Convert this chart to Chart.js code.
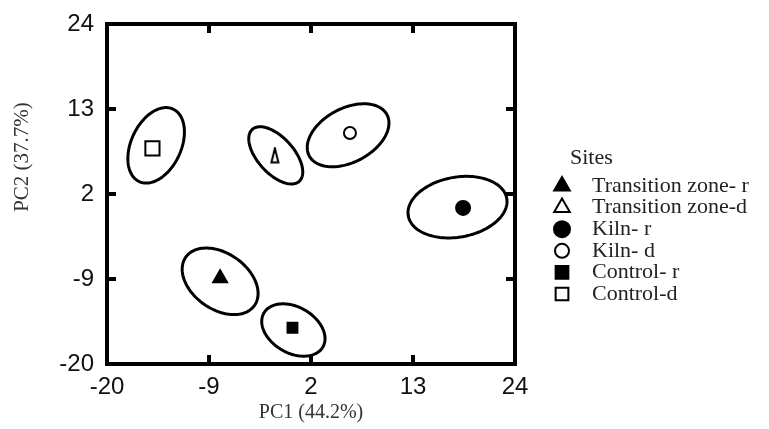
<!DOCTYPE html>
<html>
<head>
<meta charset="utf-8">
<script src="https://cdn.jsdelivr.net/npm/chart.js@4.4.1/dist/chart.umd.min.js"></script>
<style>
  html, body { margin: 0; padding: 0; background: #ffffff; }
  #wrap { width: 769px; height: 429px; }
</style>
</head>
<body>
<div id="wrap"><canvas id="pca" width="769" height="429"></canvas></div>
<script>
// Sample sites and their PCA scores
const sites = ['Transition zone- r', 'Transition zone-d', 'Kiln- r', 'Kiln- d', 'Control- r', 'Control-d'];
const pc1 = [-7.8, -1.9, 18.4, 6.2, 0.0, -15.1];
const pc2 = [-8.9, 7.0, 0.2, 9.9, -15.3, 7.9];

// Confidence ellipses: centre and two conjugate semi-axis vectors, in PC units
const ellipseCx = [-7.8, -1.8, 17.8, 6.0, 0.1, -14.7];
const ellipseCy = [-9.3, 7.0, 0.3, 9.6, -15.6, 8.3];
const ellipseAxisA = [[3.71, -3.12], [2.53, -3.36], [5.31, 1.13], [4.19, 2.67], [3.18, -2.20], [1.83, 4.69]];
const ellipseAxisB = [[1.73, 2.97], [1.44, 1.56], [-0.56, 3.82], [-1.37, 3.08], [1.24, 2.58], [-2.44, 1.37]];

// Axis ticks (both components share the same range)
const pcTicks = [-20, -9, 2, 13, 24];

// Slim open triangle used for the transition zone-d marker
function slimTriangle() {
  const c = document.createElement('canvas');
  c.width = 10; c.height = 17;
  const g = c.getContext('2d');
  g.beginPath();
  g.moveTo(5, 1.5); g.lineTo(8.5, 15.5); g.lineTo(1.5, 15.5); g.closePath();
  g.fillStyle = '#fff'; g.fill();
  g.lineWidth = 2; g.strokeStyle = '#000'; g.stroke();
  return c;
}

// Marker look for each site (plot marker, key marker)
const siteStyles = [
  { shape: 'triangle',      filled: true,  r: 8,  key: 'triangle', keyR: 9 },
  { shape: slimTriangle(),  filled: false, r: 8,  key: 'triangle', keyR: 9 },
  { shape: 'circle',        filled: true,  r: 7,  key: 'circle',   keyR: 8 },
  { shape: 'circle',        filled: false, r: 6,  key: 'circle',   keyR: 7 },
  { shape: 'rect',          filled: true,  r: 7,  key: 'rect',     keyR: 9 },
  { shape: 'rect',          filled: false, r: 10, key: 'rect',     keyR: 9 }
];

const datasets = sites.map((name, i) => ({
  label: name,
  data: [{ x: pc1[i], y: pc2[i] }],
  pointStyle: siteStyles[i].shape,
  pointRadius: siteStyles[i].r,
  pointHoverRadius: siteStyles[i].r,
  pointBorderWidth: 2,
  borderColor: '#000',
  pointBorderColor: '#000',
  pointBackgroundColor: siteStyles[i].filled ? '#000' : '#fff',
  backgroundColor: siteStyles[i].filled ? '#000' : '#fff'
}));

const SERIF = '"Liberation Serif", "Times New Roman", serif';
const SANS = '"Liberation Sans", Arial, sans-serif';

// Draws the ellipses, the boxed frame with inward ticks, the y title and the key
const pcaDecor = {
  id: 'pcaDecor',
  beforeDatasetsDraw(chart) {
    const { ctx, scales: { x, y } } = chart;
    ctx.save();
    ctx.strokeStyle = '#000';
    ctx.lineWidth = 3;
    for (let i = 0; i < sites.length; i++) {
      const A = ellipseAxisA[i], B = ellipseAxisB[i];
      ctx.beginPath();
      const n = 120;
      for (let k = 0; k <= n; k++) {
        const t = (k / n) * Math.PI * 2;
        const vx = ellipseCx[i] + A[0] * Math.cos(t) + B[0] * Math.sin(t);
        const vy = ellipseCy[i] + A[1] * Math.cos(t) + B[1] * Math.sin(t);
        const px = x.getPixelForValue(vx), py = y.getPixelForValue(vy);
        if (k === 0) ctx.moveTo(px, py); else ctx.lineTo(px, py);
      }
      ctx.closePath();
      ctx.stroke();
    }
    ctx.restore();
  },
  afterDraw(chart) {
    const { ctx, chartArea: a, scales: { x, y } } = chart;
    ctx.save();
    // frame
    ctx.strokeStyle = '#000';
    ctx.lineWidth = 4;
    ctx.strokeRect(a.left, a.top, a.right - a.left, a.bottom - a.top);
    // inward tick marks
    const len = 9;
    pcTicks.slice(1, -1).forEach(v => {
      const px = x.getPixelForValue(v);
      const py = y.getPixelForValue(v);
      ctx.beginPath();
      ctx.moveTo(px, a.bottom); ctx.lineTo(px, a.bottom - len);
      ctx.moveTo(px, a.top); ctx.lineTo(px, a.top + len);
      ctx.moveTo(a.left, py); ctx.lineTo(a.left + len, py);
      ctx.moveTo(a.right, py); ctx.lineTo(a.right - len, py);
      ctx.stroke();
    });
    // y axis title
    ctx.fillStyle = '#333';
    ctx.font = '21px ' + SERIF;
    ctx.textAlign = 'center';
    ctx.textBaseline = 'middle';
    ctx.translate(22, 157);
    ctx.rotate(-Math.PI / 2);
    ctx.fillText('PC2 (37.7%)', 0, 0);
    ctx.restore();

    // key
    ctx.save();
    ctx.fillStyle = '#222';
    ctx.font = '22px ' + SERIF;
    ctx.textAlign = 'left';
    ctx.textBaseline = 'middle';
    ctx.fillText('Sites', 570, 158);
    const rowY0 = 186, rowGap = 21.6;
    chart.data.datasets.forEach((ds, i) => {
      const yy = rowY0 + i * rowGap;
      ctx.fillStyle = ds.pointBackgroundColor;
      ctx.strokeStyle = '#000';
      ctx.lineWidth = 2;
      Chart.helpers.drawPoint(ctx, {
        pointStyle: siteStyles[i].key,
        radius: siteStyles[i].keyR,
        rotation: 0,
        borderWidth: 2
      }, 562, yy);
      ctx.fillStyle = '#222';
      ctx.fillText(ds.label, 592, yy);
    });
    ctx.restore();
  }
};

new Chart(document.getElementById('pca'), {
  type: 'scatter',
  data: { datasets },
  options: {
    responsive: false,
    animation: false,
    layout: { padding: { left: 0, right: 254, top: 24, bottom: 0 } },
    plugins: { legend: { display: false }, tooltip: { enabled: false } },
    scales: {
      x: {
        type: 'linear',
        min: -20, max: 24,
        afterBuildTicks: s => { s.ticks = pcTicks.map(v => ({ value: v })); },
        afterFit: s => { s.height = 65; },
        grid: { display: false },
        border: { display: false },
        ticks: { color: '#111', padding: 1, font: { family: SANS, size: 24 } },
        title: { display: true, text: 'PC1 (44.2%)', color: '#333', font: { family: SERIF, size: 20 }, padding: { top: 0, bottom: 4 } }
      },
      y: {
        type: 'linear',
        min: -20, max: 24,
        afterBuildTicks: s => { s.ticks = pcTicks.map(v => ({ value: v })); },
        afterFit: s => { s.width = 107; },
        grid: { display: false },
        border: { display: false },
        ticks: { color: '#111', padding: 5, font: { family: SANS, size: 24 } }
      }
    }
  },
  plugins: [pcaDecor]
});
</script>
</body>
</html>
